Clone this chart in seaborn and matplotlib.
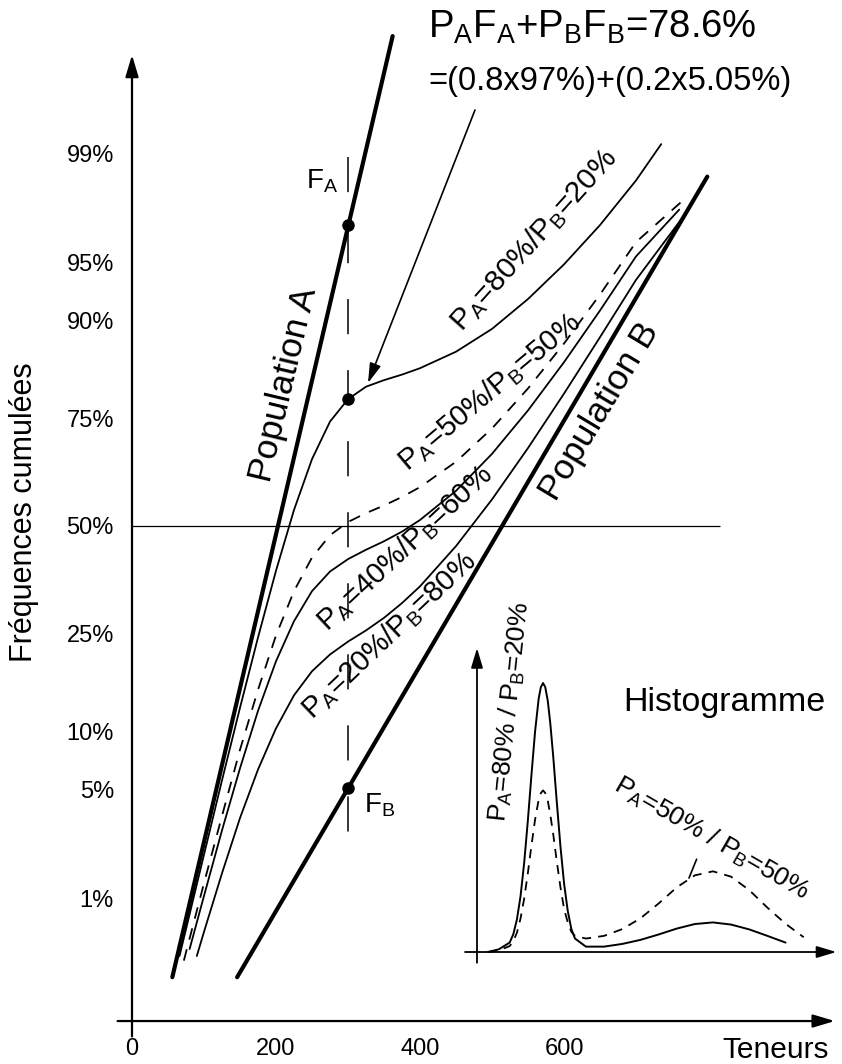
import numpy as np
import matplotlib
matplotlib.use("Agg")
import matplotlib.pyplot as plt
import seaborn as sns
from statistics import NormalDist

# ---------------------------------------------------------------- data
# teneurs (x) at which the mixture curves are read
teneur = [100, 125, 150, 175, 200, 225, 250, 275, 300, 325, 350,
          375, 400, 450, 500, 550, 600, 650, 700]

# cumulative frequencies (%) of the mixtures
mix_80_20 = [2.0, 5.6, 12.8, 24.3, 39.0, 54.0, 66.2, 74.3, 78.6, 80.8,
             81.9, 82.8, 83.8, 86.2, 89.1, 92.2, 94.9, 97.0, 98.46]
mix_50_50 = [1.28, 3.5, 8.1, 15.3, 24.7, 34.2, 42.2, 47.7, 51.0, 53.2,
             55.1, 57.2, 59.6, 65.6, 72.9, 80.5, 87.3, 92.6, 96.2]
mix_40_60 = [1.04, 2.86, 6.5, 12.4, 19.9, 27.6, 34.2, 38.8, 41.8, 44.1,
             46.2, 48.6, 51.5, 58.7, 67.4, 76.5, 84.7, 91.1, 95.4]
mix_20_80 = [0.56, 1.5, 3.4, 6.4, 10.3, 14.5, 18.2, 21.1, 23.5, 25.7,
             28.3, 31.5, 35.3, 45.0, 56.6, 68.7, 79.6, 88.1, 93.8]

# lower starts and upper ends of each mixture curve (teneur, %)
start_80_20, end_80_20 = (66, 0.36), (735, 99.15)
start_50_50, end_50_50 = (72, 0.33), (770, 98.0)
start_40_60, end_40_60 = (80, 0.41), (760, 97.6)
start_20_80, end_20_80 = (90, 0.36), (770, 97.5)

# the two pure populations (straight lines on probability paper)
pop_a_teneur = [56, 362]
pop_a_freq = [0.24, 99.89]
pop_b_teneur = [146, 799]
pop_b_freq = [0.24, 98.55]

# marked points at teneur 300
seuil = 300
f_a, f_b, f_mix = 97.0, 5.05, 78.6

# axes
y_ticks = [1, 5, 10, 25, 50, 75, 90, 95, 99]
y_ticklabels = ["1%", "5%", "10%", "25%", "50%", "75%", "90%", "95%", "99%"]
x_ticks = [0, 100, 200, 300, 400, 500, 600, 700]
x_ticklabels = ["0", "", "200", "", "400", "", "600", ""]

# histogram inset (relative frequency vs arbitrary teneur units)
hist_u = [3, 6, 9, 10, 11, 12, 13, 14, 15, 16, 17, 17.6, 18.2, 18.8, 19.5,
          20.2, 21, 22, 23, 24, 25, 26, 27, 30, 35, 40, 45, 50, 55, 60, 65,
          70, 75, 80, 85]
hist_80_20 = [0.0, 0.01, 0.035, 0.066, 0.121, 0.208, 0.332, 0.487, 0.658,
              0.82, 0.943, 0.985, 1.0, 0.985, 0.934, 0.849, 0.727, 0.555,
              0.391, 0.253, 0.153, 0.085, 0.05, 0.02, 0.02, 0.03, 0.045,
              0.065, 0.087, 0.104, 0.11, 0.102, 0.084, 0.06, 0.035]
hist_u_50 = [3, 6, 9, 10, 11, 12, 13, 14, 15, 16, 17, 17.6, 18.2, 18.8, 19.5,
             20.2, 21, 22, 23, 24, 25, 26, 27, 30, 35, 40, 45, 50, 55, 60,
             65, 70, 75, 80, 85, 90]
hist_50_50 = [0.0, 0.006, 0.022, 0.04, 0.072, 0.125, 0.199, 0.292, 0.396,
              0.492, 0.567, 0.591, 0.601, 0.591, 0.562, 0.51, 0.438, 0.335,
              0.24, 0.16, 0.11, 0.075, 0.06, 0.05, 0.06, 0.085, 0.125, 0.18,
              0.24, 0.285, 0.30, 0.28, 0.23, 0.165, 0.105, 0.055]

# ---------------------------------------------------------------- style
sns.set_theme(style="white")
plt.rcParams["font.family"] = ["Liberation Sans", "DejaVu Sans"]
plt.rcParams["mathtext.fontset"] = "custom"
plt.rcParams["mathtext.rm"] = "Liberation Sans"
plt.rcParams["mathtext.it"] = "Liberation Sans:italic"
plt.rcParams["mathtext.bf"] = "Liberation Sans:bold"
plt.rcParams["mathtext.default"] = "regular"
plt.rcParams["text.color"] = "black"
plt.rcParams["axes.labelcolor"] = "black"
plt.rcParams["xtick.color"] = "black"
plt.rcParams["ytick.color"] = "black"

W, H = 842, 1064
fig = plt.figure(figsize=(W / 100, H / 100), dpi=100)


def box(left, top, right, bottom):
    return [left / W, 1 - bottom / H, (right - left) / W, (bottom - top) / H]


_nd = NormalDist()


def pct_to_z(p):
    p = np.clip(np.asarray(p, dtype=float), 1e-9, 100 - 1e-9) / 100.0
    return np.vectorize(_nd.inv_cdf, otypes=[float])(p)


def z_to_pct(z):
    return np.vectorize(_nd.cdf, otypes=[float])(np.asarray(z, dtype=float)) * 100.0


# main probability-paper axes
ax = fig.add_axes(box(110, 28, 842, 1040))
ax.set_yscale("function", functions=(pct_to_z, z_to_pct))
ax.set_xlim(-30.56, 986.1)
ax.set_ylim(z_to_pct(-3.2125), z_to_pct(3.1125))
ax.set_facecolor("none")

for side in ["top", "right"]:
    ax.spines[side].set_visible(False)
ax.spines["left"].set_position(("data", 0))
ax.spines["bottom"].set_position(("data", float(z_to_pct(-3.094))))
ax.spines["left"].set_color("none")
ax.spines["bottom"].set_color("none")

ax.set_yticks(y_ticks)
ax.set_yticklabels(y_ticklabels)
ax.set_xticks(x_ticks)
ax.set_xticklabels(x_ticklabels)
ax.tick_params(axis="both", direction="out", length=8, width=1.4,
               color="black", labelsize=17, labelcolor="black")
ax.tick_params(axis="y", pad=5)
ax.tick_params(axis="x", pad=4)
ax.grid(False)

arrow_kw = dict(arrowstyle="-|>,head_length=1.1,head_width=0.33",
                lw=1.6, color="black", shrinkA=0, shrinkB=0)
y_bottom = float(z_to_pct(-3.19))
x_axis_y = float(z_to_pct(-3.094))
ax.annotate("", xy=(0, float(z_to_pct(2.944))), xytext=(0, y_bottom),
            arrowprops=arrow_kw, annotation_clip=False)
ax.annotate("", xy=(976, x_axis_y), xytext=(-20, x_axis_y),
            arrowprops=arrow_kw, annotation_clip=False)

# 50% reference line and the dashed vertical at teneur 300
ax.hlines(50, 0, 817, color="black", lw=0.9)
ax.vlines(seuil, 98.95, 2.8, color="black", lw=1.1,
          linestyles=[(0, (23, 23.5))])

# pure populations
sns.lineplot(x=pop_a_teneur, y=pop_a_freq, ax=ax, color="black", lw=3.0,
             estimator=None, sort=False)
sns.lineplot(x=pop_b_teneur, y=pop_b_freq, ax=ax, color="black", lw=3.0,
             estimator=None, sort=False)

# mixtures
for vals, start, end, ls in [
        (mix_80_20, start_80_20, end_80_20, "-"),
        (mix_40_60, start_40_60, end_40_60, "-"),
        (mix_20_80, start_20_80, end_20_80, "-"),
        (mix_50_50, start_50_50, end_50_50, (0, (6.5, 5.5)))]:
    xs = [start[0]] + teneur + [end[0]]
    ys = [start[1]] + vals + [end[1]]
    sns.lineplot(x=xs, y=ys, ax=ax, color="black", lw=1.3, estimator=None,
                 sort=False, linestyle=ls)

# marked points
ax.plot([seuil, seuil, seuil], [f_a, f_b, f_mix], "o", color="black", ms=8)


def px_text(x, y, s, **kw):
    kw.setdefault("color", "black")
    fig.text(x / W, 1 - y / H, s, **kw)


px_text(322, 181, "$F_A$", fontsize=20, ha="center", va="center")
px_text(380, 805, "$F_B$", fontsize=20, ha="center", va="center")

px_text(428, 38, "$P_A$$F_A$+$P_B$$F_B$=78.6%", fontsize=27.5,
        ha="left", va="baseline")
px_text(428, 90, "=(0.8x97%)+(0.2x5.05%)", fontsize=23.5,
        ha="left", va="baseline")

# arrow pointing at the mixture value
fig.patches.append(matplotlib.patches.FancyArrowPatch(
    (475 / W, 1 - 110 / H), (368 / W, 1 - 383 / H),
    transform=fig.transFigure, arrowstyle="-|>,head_length=12,head_width=3.5",
    lw=1.2, color="black", shrinkA=0, shrinkB=0))

# curve labels
px_text(284, 385, "Population A", fontsize=25.5, rotation=76.6,
        ha="center", va="center", rotation_mode="anchor")
px_text(600, 412, "Population B", fontsize=25.5, rotation=59,
        ha="center", va="center", rotation_mode="anchor")
px_text(462, 332, "$P_A$=80%/$P_B$=20%", fontsize=21.5, rotation=48,
        ha="left", va="baseline", rotation_mode="anchor")
px_text(408, 472, "$P_A$=50%/$P_B$=50%", fontsize=21, rotation=40,
        ha="left", va="baseline", rotation_mode="anchor")
px_text(327, 632, "$P_A$=40%/$P_B$=60%", fontsize=21, rotation=43,
        ha="left", va="baseline", rotation_mode="anchor")
px_text(312, 720, "$P_A$=20%/$P_B$=80%", fontsize=21, rotation=43.5,
        ha="left", va="baseline", rotation_mode="anchor")

px_text(776, 1050, "Teneurs", fontsize=21.5, ha="center", va="center")
px_text(24, 512, "Fréquences cumulées", fontsize=22, rotation=90,
        ha="center", va="center")

# ---------------------------------------------------------------- inset
axi = fig.add_axes(box(462, 640, 842, 965))
axi.set_xlim(-4.13, 100.55)
axi.set_ylim(-0.0483, 1.16)
axi.axis("off")
inset_arrow = dict(arrowstyle="-|>,head_length=1.0,head_width=0.3",
                   lw=1.3, color="black", shrinkA=0, shrinkB=0)
axi.annotate("", xy=(0, 1.13), xytext=(0, -0.04), arrowprops=inset_arrow,
             annotation_clip=False)
axi.annotate("", xy=(99, 0), xytext=(-3.3, 0), arrowprops=inset_arrow,
             annotation_clip=False)
sns.lineplot(x=hist_u, y=hist_80_20, ax=axi, color="black", lw=1.4,
             estimator=None, sort=False)
sns.lineplot(x=hist_u_50, y=hist_50_50, ax=axi, color="black", lw=1.3,
             estimator=None, sort=False, linestyle=(0, (5, 4)))
# pointer from the 50/50 label down to its curve
axi.plot([60.5, 58.4], [0.345, 0.275], color="black", lw=1.2)

px_text(724, 703, "Histogramme", fontsize=24.5, ha="center", va="center")
px_text(510, 712, "$P_A$=80% / $P_B$=20%", fontsize=19, rotation=84,
        ha="center", va="center", rotation_mode="anchor")
px_text(612, 790, "$P_A$=50% / $P_B$=50%", fontsize=19, rotation=-30,
        ha="left", va="baseline", rotation_mode="anchor")

fig.savefig("out.png", dpi=100)
